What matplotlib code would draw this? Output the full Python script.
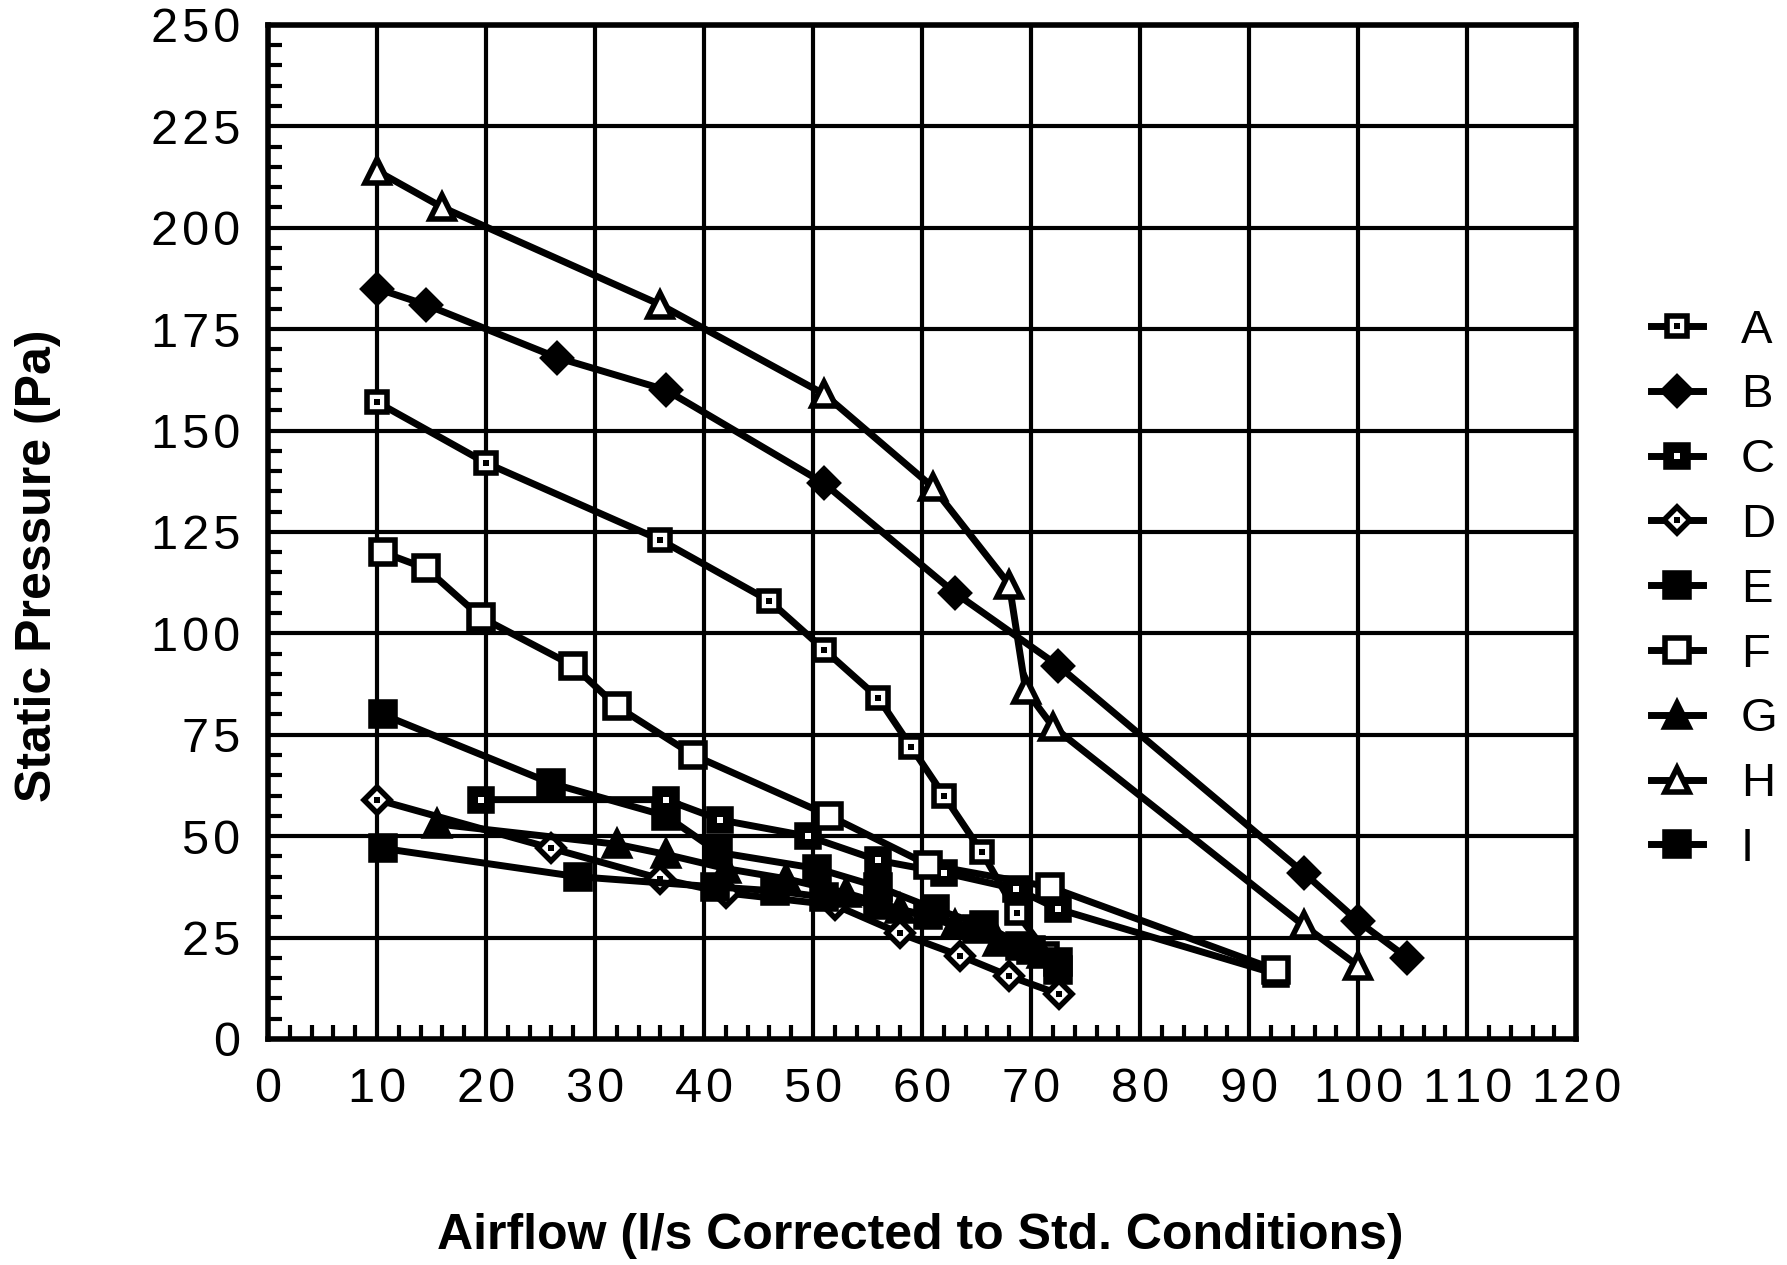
import matplotlib
matplotlib.use("Agg")
import matplotlib.pyplot as plt
from matplotlib.ticker import MultipleLocator
from matplotlib.legend_handler import HandlerTuple

plt.rcParams['font.family'] = ['Liberation Sans', 'DejaVu Sans']

# airflow (l/s) and static pressure (Pa) for each unit
a_x = [10, 20, 36, 46, 51, 56, 59, 62, 65.5, 68.7, 71.5]
a_y = [157, 142, 123, 108, 96, 84, 72, 60, 46, 31, 21]
b_x = [10, 14.5, 26.5, 36.5, 51, 63, 72.5, 95, 100, 104.5]
b_y = [185, 181, 168, 160, 137, 110, 92, 41, 29, 20]
c_x = [19.5, 36.5, 41.5, 49.5, 56, 62, 68.6, 72.5, 92.5]
c_y = [59, 59, 54, 50, 44, 41, 37, 32, 16]
d_x = [10, 26, 36, 42, 52, 58, 63.5, 68, 72.6]
d_y = [59, 47, 39.5, 36, 33, 26, 20.5, 15.5, 11]
e_x = [10.5, 26, 36.5, 41.3, 50.4, 56, 61.2, 65.7, 70, 72.5]
e_y = [80, 63, 55, 46, 42, 37.5, 32, 28, 22, 17]
f_x = [10.5, 14.5, 19.5, 28, 32, 39, 51.5, 60.5, 71.7, 92.5]
f_y = [120, 116, 104, 92, 82, 70, 55, 43, 37.5, 17]
g_x = [15.5, 32, 36.5, 42, 47.5, 53, 58, 63, 67, 71]
g_y = [53, 48, 45.5, 42, 39.5, 36, 32, 28, 24, 21]
h_x = [10, 16, 36, 51, 61, 68, 69.5, 72, 95, 100]
h_y = [214, 205, 181, 159, 136, 112, 86, 77, 28, 18]
i_x = [10.5, 28.4, 41, 46.5, 51, 56, 60.5, 65, 69, 72.5]
i_y = [47, 40, 37.5, 36.5, 35, 33, 30.5, 27, 23, 19]

labels = ["A", "B", "C", "D", "E", "F", "G", "H", "I"]
xs = [a_x, b_x, c_x, d_x, e_x, f_x, g_x, h_x, i_x]
ys = [a_y, b_y, c_y, d_y, e_y, f_y, g_y, h_y, i_y]

# marker, face colour, size, centre dot colour (None = no dot)
styles = {
    "A": ("s", "white", 14, "black"),
    "B": ("D", "black", 14, None),
    "C": ("s", "black", 16, "white"),
    "D": ("D", "white", 13, "black"),
    "E": ("s", "black", 17, None),
    "F": ("s", "white", 17, None),
    "G": ("^", "black", 17, None),
    "H": ("^", "white", 17, None),
    "I": ("s", "black", 17, None),
}

fig = plt.figure(figsize=(17.87, 12.65), dpi=100)
ax = fig.add_axes([0.150, 0.1787, 0.732, 0.8016])

handles = []
for lab, x, y in zip(labels, xs, ys):
    mk, fc, ms, dot = styles[lab]
    ln, = ax.plot(x, y, color="black", lw=5, marker=mk, ms=ms,
                  mfc=fc, mec="black", mew=4, zorder=3)
    if dot is not None:
        pt, = ax.plot(x, y, ls="none", marker="s", ms=4, mfc=dot,
                      mec=dot, mew=0, zorder=4)
        handles.append((ln, pt))
    else:
        handles.append(ln)

ax.set_xlim(0, 120)
ax.set_ylim(0, 250)
ax.xaxis.set_minor_locator(MultipleLocator(2))
ax.yaxis.set_minor_locator(MultipleLocator(5))
ax.grid(True, which="major", color="black", lw=3, zorder=1)

for s in ax.spines.values():
    s.set_linewidth(4)

ax.tick_params(which="both", direction="in", top=False, right=False)
ax.tick_params(which="major", length=0, pad=20)
ax.tick_params(which="minor", length=10, width=3)

sp = "\u200a"
ax.set_xticks(range(0, 121, 10))
ax.set_xticklabels([sp.join(str(v)) for v in range(0, 121, 10)], fontsize=35)
ax.set_yticks(range(0, 251, 25))
ax.set_yticklabels([sp.join(str(v)) for v in range(0, 251, 25)], fontsize=35)

fig.text(0.021, 0.553, "Static Pressure (Pa)", rotation=90, fontsize=36,
         fontweight="bold", ha="center", va="center")
fig.text(0.515, 0.023, "Airflow (l/s Corrected to Std. Conditions)", fontsize=36,
         fontweight="bold", ha="center", va="center")

ax.legend(handles, labels, handler_map={tuple: HandlerTuple(ndivide=1)},
          loc="center left", bbox_to_anchor=(1.025, 0.443), frameon=False,
          fontsize=34, handlelength=1.1, labelspacing=0.44, handletextpad=0.8,
          numpoints=1)

fig.savefig("out.png", dpi=100, facecolor="white")
